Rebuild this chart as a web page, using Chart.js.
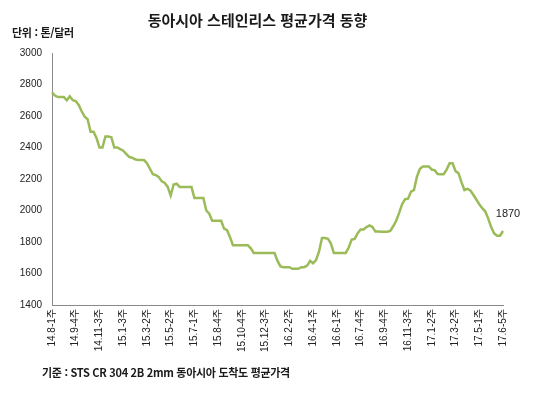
<!DOCTYPE html>
<html lang="ko">
<head>
    <meta charset="UTF-8">
    <title>동아시아 스테인리스 평균가격 동향</title>
    <script src="https://cdn.jsdelivr.net/npm/chart.js"></script>
    <style>
        body { margin: 0; background: #fff; }
        .wrap { position: relative; width: 535px; height: 397px; overflow: hidden; }
        .txt { position: absolute; font-family: "Noto Sans CJK KR", sans-serif; font-weight: bold; color: #1a1a1a; white-space: nowrap; line-height: 1; }
        #titulo { left: 0; width: 515px; top: 12px; text-align: center; font-size: 15px; }
        #unidade { left: 12px; top: 27px; font-size: 11px; letter-spacing: -0.3px; }
        #fonte { left: 42px; top: 367px; font-size: 11px; letter-spacing: -0.3px; }
    </style>
</head>
<body>
<div class="wrap">
    <canvas id="grafico" width="535" height="397"></canvas>
    <div class="txt" id="titulo">동아시아 스테인리스 평균가격 동향</div>
    <div class="txt" id="unidade">단위 : 톤/달러</div>
    <div class="txt" id="fonte">기준 : STS CR 304 2B 2mm 동아시아 도착도 평균가격</div>
</div>

<script>
// meses e quantas semanas cada um tem na serie
const months = ['14.8','14.9','14.10','14.11','14.12',
    '15.1','15.2','15.3','15.4','15.5','15.6','15.7','15.8','15.9','15.10','15.11','15.12',
    '16.1','16.2','16.3','16.4','16.5','16.6','16.7','16.8','16.9','16.10','16.11','16.12',
    '17.1','17.2','17.3','17.4','17.5','17.6'];
const weeksPerMonth = [5,4,5,4,4,
    5,4,4,4,5,4,5,4,4,5,4,4,
    5,4,5,4,4,5,4,4,5,4,4,5,
    4,4,5,4,4,5];

// preco medio semanal (US$/ton)
const prices = [
    2750,2730,2720,2720,2720,2700,2725,2700,2695,2670,
    2630,2595,2580,2500,2500,2460,2400,2400,2470,2470,
    2465,2400,2400,2390,2380,2360,2340,2335,2325,2320,
    2320,2320,2300,2265,
    2230,2225,2212,2185,2175,2150,2095,2165,2170,2150,
    2150,2150,2150,2150,2080,2080,2080,2080,2000,1980,
    1935,1935,1935,1935,1885,1875,1830,1780,1780,1780,
    1780,1780,1780,1760,1730,1730,1730,
    1730,1730,1730,1730,1730,1680,1645,1640,1640,1640,
    1630,1630,1630,1640,1640,1650,1680,1665,1685,1740,
    1825,1825,1820,1790,1730,1730,1730,1730,1730,1765,
    1815,1820,1855,1880,1880,1895,1905,1895,1866,1866,
    1865,1865,1865,1870,1900,1935,1985,2040,2072,2075,
    2120,2130,2215,2265,2280,2280,2280,2260,2255,2232,
    2230,2230,2260,2300,2300,2250,2237,2180,2130,2137,
    2127,2100,2070,2040,2015,1995,1950,1895,1855,1840,
    1840,1870
];

const yTicks = [1400,1600,1800,2000,2200,2400,2600,2800,3000];
const tickEvery = 8;

var labels = [];
for (var m = 0; m < months.length; m++) {
    for (var w = 1; w <= weeksPerMonth[m]; w++) {
        labels.push(months[m] + '-' + w + '주');
    }
}

// escreve o ultimo valor ao lado do fim da linha
const rotuloFinal = {
    id: 'rotuloFinal',
    afterDatasetsDraw(chart) {
        const meta = chart.getDatasetMeta(0);
        const p = meta.data[meta.data.length - 1];
        const ctx = chart.ctx;
        ctx.save();
        ctx.font = '11px "Liberation Sans", sans-serif';
        ctx.fillStyle = '#222';
        ctx.textAlign = 'center';
        ctx.textBaseline = 'middle';
        ctx.fillText(prices[prices.length - 1], p.x + 5, p.y - 17);
        ctx.restore();
    }
};

const config = {
    type: 'line',
    data: {
        labels: labels,
        datasets: [{
            data: prices,
            borderColor: '#9BBB59',
            borderWidth: 2.5,
            pointRadius: 0,
            tension: 0,
            fill: false
        }]
    },
    options: {
        responsive: false,
        animation: false,
        layout: { padding: { top: 53, right: 32, left: 0, bottom: 0 } },
        plugins: { legend: { display: false }, tooltip: { enabled: false } },
        scales: {
            x: {
                offset: false,
                grid: { display: false, drawTicks: false },
                border: { display: true, color: '#8a8a8a', width: 1 },
                afterFit: function (s) { s.height = 92; },
                ticks: {
                    autoSkip: false,
                    maxRotation: 90,
                    minRotation: 90,
                    padding: 4,
                    color: '#222',
                    font: { family: '"Liberation Sans", "Noto Sans CJK KR", sans-serif', size: 10 },
                    callback: function (v, i) { return i % tickEvery === 0 ? labels[i] : ''; }
                }
            },
            y: {
                min: yTicks[0],
                max: yTicks[yTicks.length - 1],
                grid: { display: false, drawTicks: false },
                border: { display: true, color: '#8a8a8a', width: 1 },
                afterFit: function (s) { s.width = 52; },
                afterBuildTicks: function (s) { s.ticks = yTicks.map(v => ({ value: v })); },
                ticks: {
                    padding: 10,
                    color: '#222',
                    font: { family: '"Liberation Sans", sans-serif', size: 10 },
                    callback: function (v) { return String(v); }
                }
            }
        }
    },
    plugins: [rotuloFinal]
};

new Chart(document.getElementById('grafico'), config);
</script>
</body>
</html>
